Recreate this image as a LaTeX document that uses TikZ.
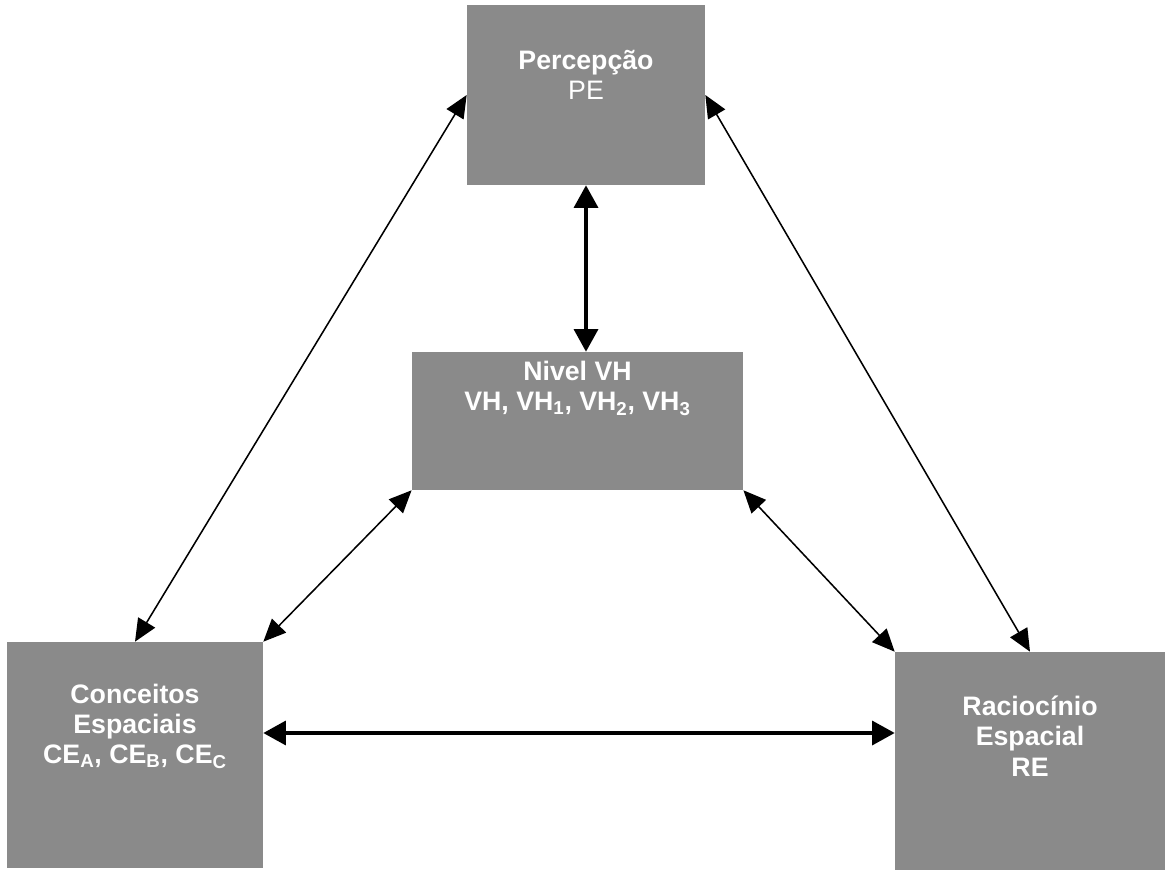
\documentclass[tikz,border=0pt]{standalone}
\usepackage{fontspec}
\setmainfont{Liberation Sans}
\usepackage{tikz}
\usetikzlibrary{calc,arrows.meta}

\definecolor{boxgray}{RGB}{138,138,138}

\begin{document}
\begin{tikzpicture}[x=0.025cm,y=-0.025cm,
    box/.style={fill=boxgray,draw=none,inner sep=0pt},
    boxtext/.style={text=white,align=center,font=\fontsize{19}{21.5}\selectfont\bfseries},
    thinarrow/.style={{Triangle[length=16pt,width=14pt]}-{Triangle[length=16pt,width=14pt]},line width=1.1pt},
    thickarrow/.style={{Triangle[length=16pt,width=17pt]}-{Triangle[length=16pt,width=17pt]},line width=2.4pt}]
  \useasboundingbox (0,0) rectangle (1168,872);
  % the four boxes
  \node[box,minimum width=5.95cm,minimum height=4.5cm]  (perc) at (586,95) {};
  \node[box,minimum width=8.28cm,minimum height=3.45cm] (nivel) at (577.5,421) {};
  \node[box,minimum width=6.4cm,minimum height=5.65cm]  (conc) at (135,755) {};
  \node[box,minimum width=6.75cm,minimum height=5.45cm] (rac) at (1030,761) {};
  % texts, set a little above the middle
  \node[boxtext] (percT) at ($(perc)+(0,-20)$) {Percepção\\\mdseries PE};
  \node[boxtext] (nivelT) at ($(nivel)+(0,-33)$) {Nivel VH\\VH, VH\textsubscript{1}, VH\textsubscript{2}, VH\textsubscript{3}};
  \node[boxtext] (concT) at ($(conc)+(0,-29)$) {Conceitos\\Espaciais\\CE\textsubscript{A}, CE\textsubscript{B}, CE\textsubscript{C}};
  \node[boxtext] (racT) at ($(rac)+(0,-25)$) {Raciocínio\\Espacial\\RE};
  % connectors
  \draw[thinarrow] (perc.west) -- (conc.north);
  \draw[thinarrow] (perc.east) -- (rac.north);
  \draw[thickarrow] (perc.south) -- (perc.south |- nivel.north);
  \draw[thinarrow] (nivel.south west) -- (conc.north east);
  \draw[thinarrow] (nivel.south east) -- (rac.north west);
  \coordinate (hleft) at ($(conc.east)+(0,-22)$);
  \draw[thickarrow] (hleft) -- (hleft -| rac.west);
\end{tikzpicture}
\end{document}
